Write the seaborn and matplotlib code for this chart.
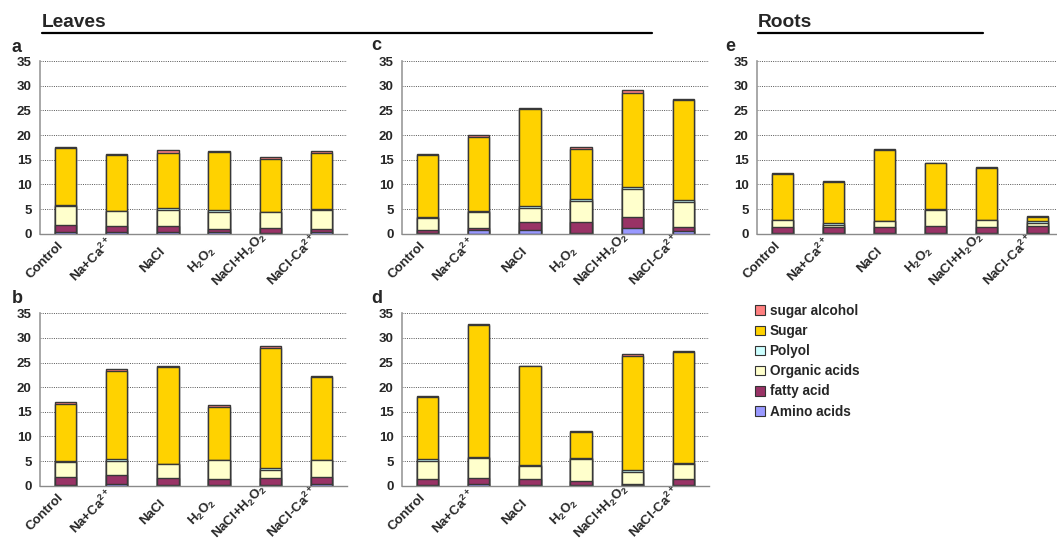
import numpy as np
import matplotlib
matplotlib.use("Agg")
import matplotlib.pyplot as plt
from matplotlib.patches import Patch
from matplotlib.lines import Line2D
import seaborn as sns

# Treatments and their axis labels
categories = ["Control", "Na+Ca2+", "NaCl", "H2O2", "NaCl+H2O2", "NaCl-Ca2+"]
tick_labels = ["Control", r"Na+Ca$^{2+}$", "NaCl", r"H$_2$O$_2$",
               r"NaCl+H$_2$O$_2$", r"NaCl-Ca$^{2+}$"]

# Metabolite classes, stacked bottom -> top
components = ["Amino acids", "fatty acid", "Organic acids", "Polyol", "Sugar", "sugar alcohol"]
component_colors = ["#9999FF", "#993366", "#FFFFCC", "#CCFFFF", "#FFD200", "#FF8080"]

# Leaves, panel a
a_amino = [0.3, 0.3, 0.4, 0.3, 0.2, 0.3]
a_fatty = [1.5, 1.3, 1.2, 0.65, 0.95, 0.65]
a_organic = [3.9, 3.0, 3.3, 3.35, 3.15, 3.85]
a_polyol = [0.2, 0.1, 0.3, 0.5, 0.1, 0.3]
a_sugar = [11.4, 11.2, 11.2, 11.7, 10.8, 11.2]
a_sugar_alcohol = [0.3, 0.2, 0.5, 0.3, 0.4, 0.4]

# Leaves, panel b
b_amino = [0.2, 0.4, 0.2, 0.15, 0.1, 0.4]
b_fatty = [1.5, 1.7, 1.3, 1.15, 1.4, 1.3]
b_organic = [3.2, 3.0, 2.9, 3.9, 1.75, 3.5]
b_polyol = [0.1, 0.4, 0.1, 0.1, 0.35, 0.1]
b_sugar = [11.5, 17.7, 19.6, 10.7, 24.45, 16.7]
b_sugar_alcohol = [0.5, 0.4, 0.2, 0.4, 0.35, 0.3]

# Leaves, panel c
c_amino = [0.2, 0.7, 0.75, 0.1, 1.1, 0.45]
c_fatty = [0.6, 0.4, 1.65, 2.2, 2.3, 0.9]
c_organic = [2.45, 3.3, 2.9, 4.25, 5.6, 5.05]
c_polyol = [0.15, 0.1, 0.3, 0.45, 0.4, 0.5]
c_sugar = [12.5, 15.0, 19.6, 10.1, 19.2, 20.2]
c_sugar_alcohol = [0.3, 0.5, 0.2, 0.5, 0.6, 0.3]

# Leaves, panel d
d_amino = [0.2, 0.4, 0.1, 0.1, 0.1, 0.2]
d_fatty = [1.1, 1.1, 1.2, 0.85, 0.2, 1.15]
d_organic = [3.8, 4.1, 2.7, 4.45, 2.5, 3.15]
d_polyol = [0.4, 0.3, 0.3, 0.3, 0.45, 0.1]
d_sugar = [12.5, 26.65, 19.9, 5.2, 23.15, 22.5]
d_sugar_alcohol = [0.2, 0.35, 0.2, 0.2, 0.3, 0.3]

# Roots, panel e
e_amino = [0.1, 0.1, 0.1, 0.2, 0.1, 0.05]
e_fatty = [1.25, 1.25, 1.25, 1.4, 1.25, 1.5]
e_organic = [1.35, 0.45, 1.15, 3.3, 1.35, 0.7]
e_polyol = [0.1, 0.3, 0.1, 0.1, 0.1, 0.3]
e_sugar = [9.4, 8.3, 14.4, 9.3, 10.6, 0.8]
e_sugar_alcohol = [0.2, 0.2, 0.2, 0.1, 0.2, 0.15]

panels = {
    "a": [a_amino, a_fatty, a_organic, a_polyol, a_sugar, a_sugar_alcohol],
    "b": [b_amino, b_fatty, b_organic, b_polyol, b_sugar, b_sugar_alcohol],
    "c": [c_amino, c_fatty, c_organic, c_polyol, c_sugar, c_sugar_alcohol],
    "d": [d_amino, d_fatty, d_organic, d_polyol, d_sugar, d_sugar_alcohol],
    "e": [e_amino, e_fatty, e_organic, e_polyol, e_sugar, e_sugar_alcohol],
}

sns.set_style("white")
plt.rcParams["font.family"] = ["Liberation Sans", "DejaVu Sans"]
plt.rcParams["font.weight"] = "bold"
plt.rcParams["mathtext.fontset"] = "custom"
plt.rcParams["mathtext.rm"] = "Liberation Sans:bold"
plt.rcParams["mathtext.it"] = "Liberation Sans:bold"
plt.rcParams["mathtext.bf"] = "Liberation Sans:bold"
plt.rcParams["mathtext.default"] = "rm"

W, H = 1057, 543
fig = plt.figure(figsize=(W / 100, H / 100), dpi=100)


def px_axes(left, right, top, bottom):
    return fig.add_axes([left / W, 1 - bottom / H, (right - left) / W, (bottom - top) / H])


EDGE = "#383838"


def draw_panel(ax, layers):
    cum = np.cumsum(np.array(layers, dtype=float), axis=0)
    # taller cumulative stacks first, each lower layer painted over it
    for k in range(len(layers) - 1, -1, -1):
        sns.barplot(x=categories, y=cum[k], order=categories,
                    color=component_colors[k], saturation=1, width=0.42,
                    edgecolor=EDGE, linewidth=1.0, errorbar=None, ax=ax)
    ax.set_xlim(-0.5, 5.5)
    ax.set_ylim(0, 35)
    ax.set_yticks(range(0, 36, 5))
    ax.set_yticklabels([str(v) for v in range(0, 36, 5)], fontsize=9.5, fontweight="bold")
    ax.set_xticks(range(len(categories)))
    ax.set_xticklabels(tick_labels, rotation=45, ha="right", va="center",
                       fontsize=9.5, fontweight="bold")
    ax.set_xticks(np.arange(-0.5, 6.0, 1.0), minor=True)
    ax.tick_params(axis="x", which="major", length=0, pad=19)
    ax.tick_params(axis="x", which="minor", direction="in", length=4,
                   color="#888888", width=0.8)
    ax.tick_params(axis="y", length=0, pad=6)
    ax.set_xlabel("")
    ax.set_ylabel("")
    ax.set_axisbelow(True)
    ax.yaxis.grid(True, linestyle=(0, (1, 1.3)), color="#555555", linewidth=0.7)
    ax.xaxis.grid(False)
    for s in ("top", "right"):
        ax.spines[s].set_visible(False)
    ax.spines["left"].set_color("#9a9a9a")
    ax.spines["left"].set_linewidth(1.2)
    ax.spines["bottom"].set_color("#8a8a8a")
    ax.spines["bottom"].set_linewidth(1.0)


layout = {
    "a": (40, 347, 61, 233.7),
    "c": (402, 709, 61, 233.7),
    "e": (757, 1063, 61, 233.7),
    "b": (40, 347, 313.3, 485.7),
    "d": (402, 709, 313.3, 485.7),
}
letter_pos = {"a": (12, 52), "c": (371, 50), "e": (725, 51), "b": (12, 303), "d": (371, 303)}

for key, box in layout.items():
    ax = px_axes(*box)
    draw_panel(ax, panels[key])
    lx, ly = letter_pos[key]
    fig.text(lx / W, 1 - ly / H, key, fontsize=13, fontweight="bold", va="baseline")

# Section headings with rules underneath
fig.text(42 / W, 1 - 27 / H, "Leaves", fontsize=13.8, fontweight="bold", va="baseline")
fig.text(758 / W, 1 - 27 / H, "Roots", fontsize=13.8, fontweight="bold", va="baseline")
fig.add_artist(Line2D([42 / W, 652 / W], [1 - 33 / H, 1 - 33 / H], color="black", linewidth=1.6))
fig.add_artist(Line2D([758 / W, 983 / W], [1 - 33 / H, 1 - 33 / H], color="black", linewidth=1.6))

# Legend, top entry is the top of the stack
handles = [Patch(facecolor=component_colors[k], edgecolor="#333333", linewidth=0.8)
           for k in range(len(components) - 1, -1, -1)]
labels = components[::-1]
fig.legend(handles, labels, loc="upper left", bbox_to_anchor=(755 / W, 1 - 304 / H),
           frameon=False, handlelength=0.72, handleheight=0.72, handletextpad=0.35,
           labelspacing=0.45, borderpad=0, borderaxespad=0,
           prop={"size": 9.8, "weight": "bold"})

fig.savefig("out.png", dpi=100)
